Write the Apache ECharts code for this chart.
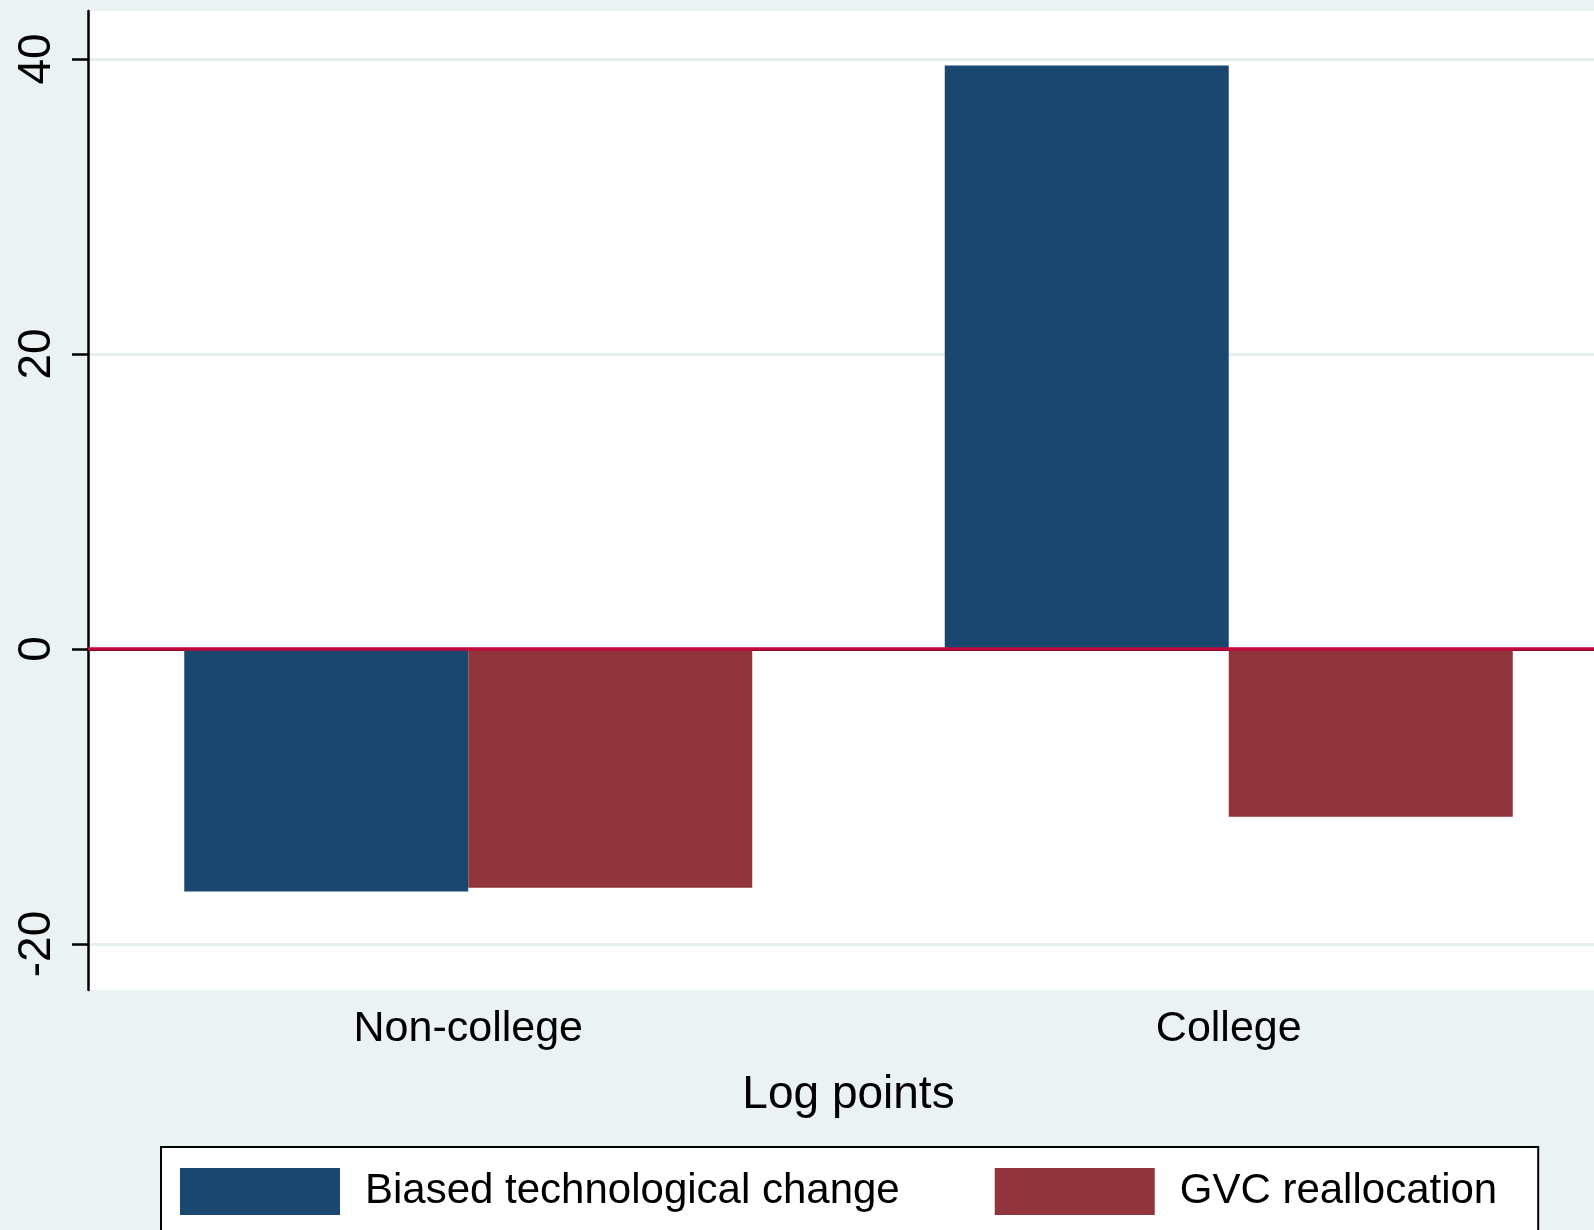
<!DOCTYPE html>
<html>
<head>
<meta charset="utf-8">
<title>Log points</title>
<script src="https://cdn.jsdelivr.net/npm/echarts@6/dist/echarts.min.js"></script>
<style>
  html, body { margin: 0; padding: 0; background: #eaf2f3; overflow: hidden; }
  /* plot runs a bit past the right edge of the window, like the original */
  #chart { width: 1609px; height: 1230px; }
</style>
</head>
<body>
<div id="chart"></div>
<script>
// data
var categories = ["Non-college", "College"];
var biasedTech = [-16.45, 39.55];   // Biased technological change
var gvcRealloc = [-16.18, -11.37];  // GVC reallocation
var yTicks = [-20, 0, 20, 40];

var font = "'Liberation Sans', Arial, sans-serif";

var myChart = echarts.init(document.getElementById("chart"), null, { renderer: "canvas" });
var option = {
  backgroundColor: "#eaf2f3",
  animation: false,
  textStyle: { fontFamily: font, color: "#000" },
  grid: {
    left: 88,
    right: 0,
    top: 11,
    bottom: 240,
    show: true,
    backgroundColor: "#fff",
    borderWidth: 0
  },
  legend: {
    left: 161,
    top: 1147,
    padding: [21, 41, 21, 19],
    backgroundColor: "#fff",
    borderColor: "#000",
    borderWidth: 2,
    borderRadius: 0,
    icon: "rect",
    itemWidth: 160,
    itemHeight: 47,
    itemGap: 95,
    textStyle: { fontSize: 42, color: "#000", fontFamily: font, padding: [0, 0, 0, 20] },
    data: ["Biased technological change", "GVC reallocation"]
  },
  xAxis: {
    type: "category",
    data: categories,
    name: "Log points",
    nameLocation: "middle",
    nameGap: 82,
    nameTextStyle: { fontSize: 46, color: "#000", fontFamily: font },
    axisLine: { lineStyle: { color: "#000", width: 3 } },
    axisTick: { show: false },
    axisLabel: { fontSize: 43, color: "#000", margin: 18, fontFamily: font },
    splitLine: { show: false }
  },
  yAxis: {
    type: "value",
    min: -23.12,
    max: 43.25,
    axisLine: { show: true, lineStyle: { color: "#000", width: 2.5 } },
    axisTick: {
      show: true,
      length: 16,
      customValues: yTicks,
      lineStyle: { color: "#000", width: 2.5 }
    },
    axisLabel: {
      customValues: yTicks,
      rotate: 90,
      fontSize: 46,
      color: "#000",
      margin: 28,
      fontFamily: font
    },
    splitLine: { show: true, lineStyle: { color: "#e6eff0", width: 3 } }
  },
  series: [
    {
      name: "Biased technological change",
      type: "bar",
      barWidth: 284,
      barGap: "0%",
      itemStyle: { color: "#1a476f" },
      data: biasedTech,
      markLine: {
        silent: true,
        symbol: "none",
        label: { show: false },
        lineStyle: { color: "#c2093b", width: 3.5, type: "solid" },
        data: [{ yAxis: 0 }]
      }
    },
    {
      name: "GVC reallocation",
      type: "bar",
      barWidth: 284,
      itemStyle: { color: "#90353b" },
      data: gvcRealloc
    }
  ]
};
myChart.setOption(option);
</script>
</body>
</html>
